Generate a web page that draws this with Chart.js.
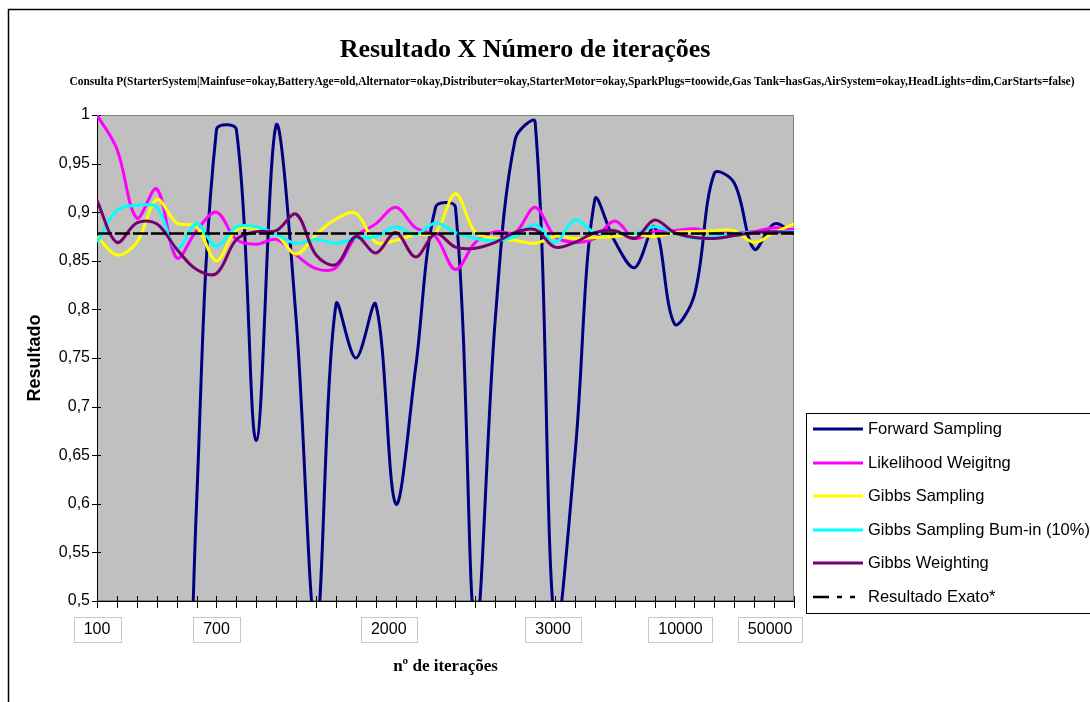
<!DOCTYPE html>
<html lang="pt">
<head>
<meta charset="utf-8">
<title>Resultado X Número de iterações</title>
<script src="https://cdn.jsdelivr.net/npm/chart.js@4.4.1/dist/chart.umd.min.js"></script>
<style>
html,body{margin:0;padding:0;background:#fff;}
canvas{display:block;}
</style>
</head>
<body>
<canvas id="grafico" width="1090" height="702"></canvas>
<script>

const titulo = 'Resultado X Número de iterações';
const subtitulo = 'Consulta P(StarterSystem|Mainfuse=okay,BatteryAge=old,Alternator=okay,Distributer=okay,StarterMotor=okay,SparkPlugs=toowide,Gas Tank=hasGas,AirSystem=okay,HeadLights=dim,CarStarts=false)';

// rótulos do eixo x e onde ficam (em unidades de categoria)
const rotulosX = ['100', '700', '2000', '3000', '10000', '50000'];
const posicoesX = [0, 6, 14.65, 22.9, 29.3, 33.8];

const forwardSampling = [0, 0, 0, 0, 0, 0.6, 0.985, 0.985, 0.665, 0.99, 0.79, 0.47, 0.805, 0.75, 0.805, 0.6, 0.74, 0.905, 0.905, 0.47, 0.79, 0.975, 0.993, 0.47, 0.65, 0.913, 0.87, 0.843, 0.885, 0.785, 0.815, 0.94, 0.93, 0.862, 0.888, 0.878];
const likelihoodWeighting = [1.0, 0.965, 0.894, 0.924, 0.853, 0.881, 0.9, 0.872, 0.867, 0.872, 0.856, 0.842, 0.843, 0.875, 0.888, 0.905, 0.884, 0.875, 0.841, 0.869, 0.88, 0.879, 0.905, 0.875, 0.869, 0.873, 0.891, 0.873, 0.88, 0.881, 0.883, 0.879, 0.879, 0.88, 0.884, 0.882];
const gibbsSampling = [0.875, 0.856, 0.869, 0.913, 0.889, 0.885, 0.85, 0.882, 0.883, 0.877, 0.857, 0.877, 0.893, 0.899, 0.869, 0.871, 0.877, 0.879, 0.919, 0.879, 0.873, 0.871, 0.868, 0.875, 0.873, 0.874, 0.875, 0.877, 0.875, 0.879, 0.88, 0.881, 0.881, 0.869, 0.879, 0.888];
const gibbsBurnIn = [0.869, 0.902, 0.907, 0.905, 0.862, 0.888, 0.865, 0.885, 0.885, 0.877, 0.868, 0.872, 0.868, 0.873, 0.875, 0.885, 0.877, 0.889, 0.879, 0.873, 0.871, 0.875, 0.887, 0.869, 0.892, 0.879, 0.879, 0.878, 0.885, 0.879, 0.873, 0.875, 0.878, 0.879, 0.88, 0.88];
const gibbsWeighting = [0.912, 0.869, 0.889, 0.888, 0.862, 0.841, 0.837, 0.872, 0.88, 0.881, 0.898, 0.856, 0.846, 0.875, 0.858, 0.879, 0.854, 0.878, 0.864, 0.863, 0.869, 0.879, 0.882, 0.864, 0.869, 0.879, 0.881, 0.873, 0.892, 0.879, 0.874, 0.873, 0.876, 0.879, 0.88, 0.879];
const resultadoExato = [0.878, 0.878, 0.878, 0.878, 0.878, 0.878, 0.878, 0.878, 0.878, 0.878, 0.878, 0.878, 0.878, 0.878, 0.878, 0.878, 0.878, 0.878, 0.878, 0.878, 0.878, 0.878, 0.878, 0.878, 0.878, 0.878, 0.878, 0.878, 0.878, 0.878, 0.878, 0.878, 0.878, 0.878, 0.878, 0.878];

const sans = '"Liberation Sans", Arial, sans-serif';
const serif = '"Liberation Serif", "Times New Roman", serif';

function serie(valores){
  return valores.map((v, i) => ({x: i, y: v}));
}

const moldura = {
  id: 'moldura',
  beforeDraw(chart){
    const {ctx, chartArea: a} = chart;
    const x = chart.scales.x;
    ctx.save();
    ctx.fillStyle = '#fff';
    ctx.fillRect(0, 0, chart.width, chart.height);
    ctx.strokeStyle = '#000';
    ctx.lineWidth = 1.5;
    ctx.strokeRect(8.5, 9.5, chart.width + 40, chart.height + 40);

    ctx.fillStyle = '#c0c0c0';
    ctx.fillRect(a.left, a.top, a.width, a.height);
    ctx.strokeStyle = '#808080';
    ctx.lineWidth = 1;
    ctx.strokeRect(a.left + 0.5, a.top + 0.5, a.width - 1, a.height - 1);

    // caixinhas dos rótulos do eixo x
    ctx.font = '16px ' + sans;
    rotulosX.forEach((r, i) => {
      const cx = x.getPixelForValue(posicoesX[i]);
      const w = ctx.measureText(r).width + 20;
      ctx.fillStyle = '#fff';
      ctx.fillRect(cx - w / 2, a.bottom + 16, w, 25);
      ctx.strokeStyle = '#c8c8c8';
      ctx.strokeRect(Math.round(cx - w / 2) + 0.5, a.bottom + 16.5, Math.round(w), 25);
    });
    ctx.restore();
  },
  beforeDatasetsDraw(chart){
    const {ctx, chartArea: a} = chart;
    const {x, y} = chart.scales;
    ctx.save();
    ctx.strokeStyle = '#000';
    ctx.lineWidth = 1;
    ctx.beginPath();
    y.ticks.forEach(t => {
      const py = Math.round(y.getPixelForValue(t.value)) + 0.5;
      ctx.moveTo(a.left - 5, py);
      ctx.lineTo(a.left + 4, py);
    });
    for (let i = 0; i < forwardSampling.length; i++){
      const px = Math.round(x.getPixelForValue(i)) + 0.5;
      ctx.moveTo(px, a.bottom - 5);
      ctx.lineTo(px, a.bottom + 7);
    }
    ctx.stroke();
    ctx.restore();
  },
  afterDraw(chart){
    const ctx = chart.ctx;
    ctx.save();
    ctx.fillStyle = '#000';
    ctx.textAlign = 'center';
    ctx.textBaseline = 'middle';
    ctx.font = 'bold 26px ' + serif;
    ctx.fillText(titulo, 525, 50);

    ctx.font = 'bold 12px ' + serif;
    const w = ctx.measureText(subtitulo).width;
    ctx.save();
    ctx.translate(572, 82);
    ctx.scale(1005 / w, 1);
    ctx.fillText(subtitulo, 0, 0);
    ctx.restore();

    // legenda
    const leg = {x: 806, y: 413, w: 320, h: 200};
    ctx.fillStyle = '#fff';
    ctx.fillRect(leg.x, leg.y, leg.w, leg.h);
    ctx.strokeStyle = '#000';
    ctx.lineWidth = 1;
    ctx.strokeRect(leg.x + 0.5, leg.y + 0.5, leg.w, leg.h);
    ctx.font = '16.5px ' + sans;
    ctx.textAlign = 'left';
    chart.data.datasets.forEach((d, i) => {
      const ly = Math.round(leg.y + 16 + i * 33.5);
      ctx.strokeStyle = d.borderColor;
      ctx.lineWidth = d.borderWidth;
      ctx.setLineDash(d.legendDash || []);
      ctx.beginPath();
      ctx.moveTo(leg.x + 7, ly);
      ctx.lineTo(leg.x + 57, ly);
      ctx.stroke();
      ctx.setLineDash([]);
      ctx.fillStyle = '#000';
      ctx.fillText(d.label, leg.x + 62, ly);
    });
    ctx.restore();
  }
};

new Chart(document.getElementById('grafico'), {
  type: 'line',
  data: {
    datasets: [
      {label: 'Forward Sampling', data: serie(forwardSampling), borderColor: '#000080', borderWidth: 3, order: 5},
      {label: 'Likelihood Weigitng', data: serie(likelihoodWeighting), borderColor: '#ff00ff', borderWidth: 3, order: 4},
      {label: 'Gibbs Sampling', data: serie(gibbsSampling), borderColor: '#ffff00', borderWidth: 3, order: 3},
      {label: 'Gibbs Sampling Bum-in (10%)', data: serie(gibbsBurnIn), borderColor: '#00ffff', borderWidth: 3, order: 2},
      {label: 'Gibbs Weighting', data: serie(gibbsWeighting), borderColor: '#76006f', borderWidth: 3, order: 1},
      {label: 'Resultado Exato*', data: serie(resultadoExato), borderColor: '#000', borderWidth: 2.5, borderDash: [15, 3], legendDash: [16, 8, 5, 8, 5], order: 0}
    ]
  },
  options: {
    responsive: false,
    animation: false,
    layout: {padding: {top: 115, right: 296, bottom: 0, left: 0}},
    elements: {
      point: {radius: 0},
      line: {tension: 0.35, fill: false}
    },
    plugins: {
      legend: {display: false},
      tooltip: {enabled: false},
      title: {display: false}
    },
    scales: {
      x: {
        type: 'linear',
        min: 0,
        max: 35,
        afterFit: s => { s.height = 101; },
        afterBuildTicks: s => { s.ticks = posicoesX.map(v => ({value: v})); },
        ticks: {
          autoSkip: false,
          maxRotation: 0,
          padding: 19,
          color: '#000',
          font: {family: sans, size: 16},
          callback: (v, i) => rotulosX[i]
        },
        grid: {display: false, drawTicks: false},
        border: {display: true, color: '#000', width: 1},
        title: {
          display: true,
          text: 'nº de iterações',
          color: '#000',
          font: {family: serif, size: 17, weight: 'bold'},
          padding: {top: 0, bottom: 25}
        }
      },
      y: {
        min: 0.5,
        max: 1,
        afterFit: s => { s.width = 97; },
        ticks: {
          stepSize: 0.05,
          padding: 7,
          color: '#000',
          font: {family: sans, size: 16},
          callback: v => String(Math.round(v * 100) / 100).replace('.', ',')
        },
        grid: {display: false, drawTicks: false},
        border: {display: true, color: '#000', width: 1},
        title: {
          display: true,
          text: 'Resultado',
          color: '#000',
          font: {family: sans, size: 18, weight: 'bold'},
          padding: {top: 24, bottom: 24}
        }
      }
    }
  },
  plugins: [moldura]
});

</script>
</body>
</html>
